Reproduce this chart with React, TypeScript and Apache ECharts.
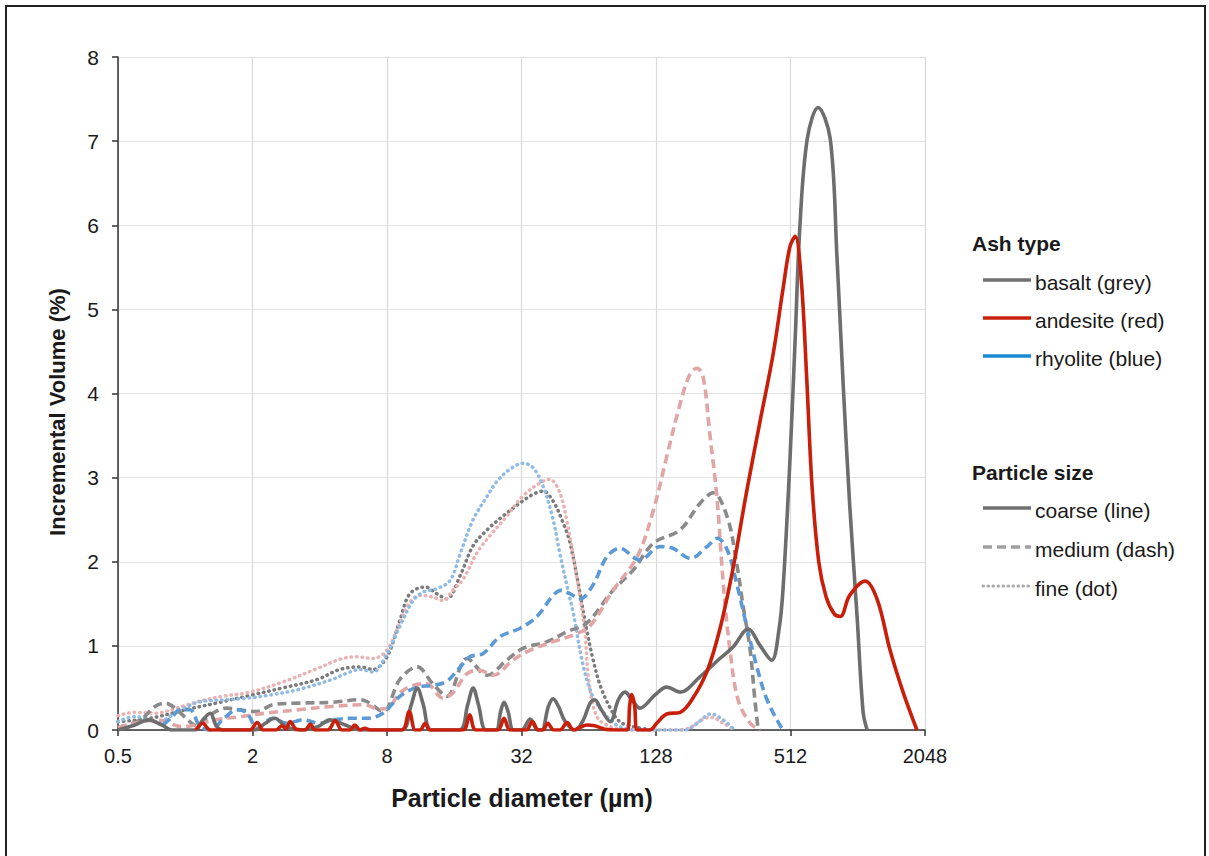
import React, { useEffect, useRef } from "react";
import * as echarts from "echarts";

// x values are log2(particle diameter in µm); y values are incremental volume (%)
const xTickDiameters = [0.5, 2, 8, 32, 128, 512, 2048];
const yTicks = [0, 1, 2, 3, 4, 5, 6, 7, 8];

const basaltCoarse: number[][] = [
  [-1, 0], [-0.75, 0.06], [-0.55, 0.12], [-0.35, 0.06], [-0.2, 0], [0.15, 0], [0.26, 0.12], [0.37, 0.2], [0.46, 0.05], [0.55, 0],
  [1.04, 0], [1.19, 0.08], [1.33, 0.14], [1.51, 0.03], [1.71, 0], [1.97, 0.04], [2.15, 0.12], [2.38, 0.06], [2.6, 0],
  [3.22, 0], [3.36, 0.3], [3.45, 0.5], [3.54, 0.3], [3.66, 0],
  [4.08, 0], [4.2, 0.3], [4.28, 0.5], [4.36, 0.3], [4.47, 0],
  [4.62, 0], [4.69, 0.22], [4.74, 0.33], [4.8, 0.22], [4.88, 0],
  [5.0, 0], [5.13, 0.13], [5.24, 0], [5.3, 0], [5.4, 0.28], [5.47, 0.37], [5.55, 0.28], [5.65, 0.1], [5.8, 0],
  [5.92, 0.12], [6.02, 0.32], [6.09, 0.36], [6.18, 0.25], [6.32, 0.1], [6.44, 0.36], [6.54, 0.45], [6.64, 0.36], [6.76, 0.26],
  [6.99, 0.42], [7.16, 0.51], [7.36, 0.45], [7.65, 0.63], [7.95, 0.85], [8.15, 0.99], [8.37, 1.2], [8.55, 1.0], [8.72, 0.83],
  [8.83, 1.2], [8.89, 1.69], [8.99, 3.18], [9.07, 4.66], [9.14, 5.99], [9.25, 7.03], [9.41, 7.4], [9.59, 7.03], [9.69, 5.64],
  [9.78, 4.16], [9.88, 2.68], [9.99, 1.35], [10.08, 0.21], [10.14, 0],
];

const andesiteCoarse: number[][] = [
  [0.16, 0], [0.26, 0.08], [0.37, 0], [0.96, 0], [1.07, 0.09], [1.16, 0], [1.35, 0], [1.44, 0.05], [1.5, 0.01], [1.56, 0.1],
  [1.65, 0.01], [1.78, 0], [1.86, 0.07], [1.93, 0], [2.12, 0], [2.23, 0.11], [2.33, 0], [2.45, 0], [2.52, 0.06], [2.6, 0],
  [2.67, 0.02], [2.75, 0], [3.22, 0], [3.33, 0.22], [3.42, 0], [3.49, 0], [3.57, 0.08], [3.64, 0], [4.13, 0], [4.23, 0.18],
  [4.32, 0], [4.65, 0], [4.74, 0.14], [4.83, 0], [5.07, 0], [5.16, 0.1], [5.25, 0], [5.32, 0], [5.39, 0.08], [5.48, 0],
  [5.57, 0], [5.68, 0.09], [5.77, 0], [5.87, 0.03], [5.97, 0.06], [6.09, 0.05], [6.24, 0.01], [6.46, 0], [6.57, 0],
  [6.61, 0.3], [6.64, 0.42], [6.68, 0.3], [6.73, 0], [6.91, 0], [7.01, 0.08], [7.16, 0.19], [7.36, 0.21], [7.55, 0.38],
  [7.76, 0.7], [7.95, 1.2], [8.15, 1.94], [8.34, 2.8], [8.55, 3.68], [8.74, 4.46], [8.89, 5.25], [8.99, 5.74], [9.07, 5.87],
  [9.16, 5.35], [9.24, 4.2], [9.32, 2.9], [9.42, 2.0], [9.53, 1.58], [9.65, 1.38], [9.74, 1.35], [9.88, 1.6], [10.11, 1.77],
  [10.29, 1.55], [10.48, 0.95], [10.67, 0.46], [10.88, 0],
];

const basaltMedium: number[][] = [
  [-1, 0.03], [-0.67, 0.12], [-0.45, 0.28], [-0.3, 0.32], [-0.15, 0.26], [0, 0.15], [0.17, 0.05], [0.37, 0.18], [0.62, 0.26],
  [0.81, 0.24], [1.07, 0.22], [1.3, 0.3], [1.71, 0.32], [2.2, 0.33], [2.6, 0.36], [2.72, 0.33], [2.94, 0.22], [3.19, 0.6],
  [3.45, 0.75], [3.68, 0.55], [3.89, 0.4], [4.19, 0.85], [4.49, 0.65], [4.78, 0.83], [5.02, 0.97], [5.38, 1.05], [5.68, 1.17],
  [5.97, 1.27], [6.36, 1.66], [6.66, 1.9], [6.96, 2.22], [7.36, 2.38], [7.65, 2.69], [7.85, 2.82], [8.06, 2.53], [8.2, 1.98],
  [8.29, 1.5], [8.4, 0.95], [8.47, 0.36], [8.52, 0],
];

const andesiteMedium: number[][] = [
  [-1, 0.03], [-0.75, 0.08], [-0.41, 0.12], [-0.05, 0.04], [0.15, 0.06], [0.44, 0.12], [0.84, 0.16], [1.19, 0.2], [1.68, 0.24],
  [2.18, 0.28], [2.67, 0.3], [2.87, 0.25], [3.01, 0.26], [3.19, 0.44], [3.39, 0.53], [3.59, 0.55], [3.83, 0.38], [3.98, 0.44],
  [4.19, 0.67], [4.38, 0.71], [4.58, 0.65], [4.87, 0.83], [5.13, 0.95], [5.47, 1.05], [5.77, 1.13], [6.02, 1.24], [6.36, 1.66],
  [6.72, 2.06], [6.96, 2.61], [7.16, 3.25], [7.36, 3.88], [7.51, 4.24], [7.61, 4.3], [7.7, 4.2], [7.8, 3.52], [7.91, 2.73],
  [8.0, 1.74], [8.1, 0.95], [8.22, 0.36], [8.4, 0.08], [8.55, 0],
];

const rhyoliteMedium: number[][] = [
  [-0.33, 0.06], [-0.2, 0.15], [-0.08, 0.24], [0.07, 0.24], [0.22, 0.04], [0.37, 0], [0.59, 0.15], [0.77, 0.24], [0.92, 0.2],
  [1.07, 0.02], [1.3, 0.14], [1.51, 0.08], [1.75, 0.12], [2.0, 0.08], [2.2, 0.12], [2.49, 0.14], [2.7, 0.14], [2.94, 0.2],
  [3.19, 0.4], [3.45, 0.51], [3.68, 0.53], [3.89, 0.58], [4.09, 0.75], [4.23, 0.87], [4.43, 0.91], [4.68, 1.11], [4.98, 1.21],
  [5.23, 1.35], [5.47, 1.6], [5.59, 1.66], [5.72, 1.62], [5.87, 1.56], [6.06, 1.72], [6.27, 2.06], [6.46, 2.16], [6.76, 2.02],
  [7.06, 2.18], [7.25, 2.16], [7.51, 2.04], [7.76, 2.18], [7.91, 2.28], [8.06, 2.14], [8.2, 1.74], [8.35, 1.23], [8.5, 0.75],
  [8.65, 0.36], [8.84, 0.06], [8.89, 0],
];

const basaltFine: number[][] = [
  [-1, 0.1], [-0.52, 0.14], [0, 0.24], [0.52, 0.33], [1.01, 0.42], [1.45, 0.5], [1.96, 0.6], [2.3, 0.72], [2.6, 0.75],
  [2.79, 0.72], [3.0, 0.87], [3.19, 1.3], [3.34, 1.62], [3.57, 1.7], [3.74, 1.62], [3.89, 1.56], [4.09, 1.84], [4.28, 2.19],
  [4.49, 2.38], [4.72, 2.54], [4.98, 2.7], [5.17, 2.8], [5.32, 2.84], [5.47, 2.72], [5.62, 2.46], [5.72, 2.23], [5.83, 1.8],
  [5.97, 1.19], [6.06, 0.85], [6.17, 0.53], [6.32, 0.26], [6.46, 0.1], [6.66, 0.04], [6.96, 0],
];

const andesiteFine: number[][] = [
  [-1, 0.17], [-0.75, 0.21], [-0.45, 0.2], [-0.05, 0.28], [0.25, 0.35], [0.55, 0.4], [0.96, 0.45], [1.45, 0.57], [1.96, 0.73],
  [2.3, 0.84], [2.55, 0.87], [2.79, 0.85], [3.0, 0.95], [3.19, 1.27], [3.34, 1.52], [3.49, 1.6], [3.68, 1.58], [3.83, 1.54],
  [3.98, 1.66], [4.13, 1.79], [4.34, 2.11], [4.53, 2.31], [4.78, 2.54], [5.02, 2.78], [5.28, 2.94], [5.42, 2.98], [5.57, 2.82],
  [5.68, 2.46], [5.83, 1.78], [5.94, 1.19], [6.0, 0.6], [6.12, 0.16], [6.32, 0.04], [6.61, 0], [7.36, 0], [7.51, 0.03],
  [7.73, 0.14], [7.83, 0.15], [8.0, 0.08], [8.17, 0],
];

const rhyoliteFine: number[][] = [
  [-1, 0.1], [-0.75, 0.16], [-0.41, 0.1], [-0.11, 0.22], [0.19, 0.33], [0.59, 0.36], [0.93, 0.38], [1.29, 0.42], [1.68, 0.48],
  [2.18, 0.6], [2.42, 0.68], [2.6, 0.72], [2.79, 0.69], [3.0, 0.91], [3.19, 1.23], [3.39, 1.54], [3.54, 1.64], [3.74, 1.68],
  [3.94, 1.78], [4.09, 2.1], [4.28, 2.5], [4.49, 2.78], [4.64, 2.96], [4.83, 3.1], [5.02, 3.17], [5.17, 3.12], [5.32, 2.9],
  [5.47, 2.5], [5.57, 2.1], [5.68, 1.7], [5.77, 1.39], [5.91, 0.79], [6.06, 0.4], [6.27, 0.16], [6.46, 0.04], [6.69, 0],
  [7.43, 0], [7.58, 0.06], [7.82, 0.19], [8.0, 0.12], [8.17, 0],
];

const ashLegend = ["basalt (grey)", "andesite (red)", "rhyolite (blue)"];
const sizeLegend = ["coarse (line)", "medium (dash)", "fine (dot)"];

const FONT = '"Liberation Sans", Arial, Helvetica, sans-serif';
const DASH = [9, 5];
const DOT = [0.5, 5];

export default function App() {
  const ref = useRef<HTMLDivElement>(null);

  useEffect(() => {
    if (!ref.current) return;
    const chart = echarts.init(ref.current, undefined, { renderer: "svg" });

    const mk = (name: string, data: number[][], color: string, kind: "solid" | "dash" | "dot", z: number) => ({
      name,
      type: "line",
      data,
      smooth: 0.35,
      symbol: "none",
      showSymbol: false,
      silent: true,
      z,
      lineStyle: {
        color,
        width: kind === "dot" ? 3.5 : 3.6,
        type: kind === "solid" ? "solid" : kind === "dash" ? DASH : DOT,
        cap: kind === "dot" ? "round" : "butt",
      },
    });

    const legendText = (text: string, x: number, y: number, bold = false) => ({
      type: "text",
      style: {
        text,
        x,
        y,
        fill: "#1a1a1a",
        font: `${bold ? "bold " : ""}21px ${FONT}`,
        verticalAlign: "middle",
        align: "left",
      },
    });
    const legendLine = (y: number, color: string, dash?: number[], width = 3.5, cap = "butt") => ({
      type: "line",
      shape: { x1: 983, y1: y, x2: 1031, y2: y },
      style: { stroke: color, lineWidth: width, lineDash: dash, lineCap: cap },
    });

    const ashY = [280, 318, 356];
    const sizeY = [508, 547, 586];

    chart.setOption({
      animation: false,
      backgroundColor: "transparent",
      grid: { left: 118, top: 57, width: 807, height: 673, containLabel: false },
      xAxis: {
        type: "value",
        min: -1,
        max: 11,
        interval: 1,
        axisLine: { show: true, onZero: false, lineStyle: { color: "#333333", width: 1.5 } },
        axisTick: {
          show: true,
          length: 6,
          customValues: xTickDiameters.map((d) => Math.log2(d)),
          lineStyle: { color: "#333333", width: 1.5 },
        },
        axisLabel: {
          customValues: xTickDiameters.map((d) => Math.log2(d)),
          formatter: (v: number) => String(Math.round(Math.pow(2, v) * 10) / 10),
          fontFamily: FONT,
          fontSize: 20,
          color: "#1a1a1a",
          margin: 16,
        },
        splitLine: { show: true, lineStyle: { color: "#d9d9d9", width: 1.2 } },
      },
      yAxis: {
        type: "value",
        min: yTicks[0],
        max: yTicks[yTicks.length - 1],
        interval: 1,
        axisLine: { show: true, onZero: false, lineStyle: { color: "#333333", width: 1.5 } },
        axisTick: { show: true, length: 6, lineStyle: { color: "#333333", width: 1.5 } },
        axisLabel: { fontFamily: FONT, fontSize: 21, color: "#1a1a1a", margin: 19 },
        splitLine: { show: true, lineStyle: { color: "#e3e3e3", width: 1.2 } },
      },
      series: [
        mk("basalt fine", basaltFine, "#7b7b7b", "dot", 2),
        mk("andesite fine", andesiteFine, "#e9b3b3", "dot", 2),
        mk("rhyolite fine", rhyoliteFine, "#8fbbe4", "dot", 2),
        mk("basalt medium", basaltMedium, "#8a8a8a", "dash", 3),
        mk("andesite medium", andesiteMedium, "#e2a5a5", "dash", 3),
        mk("rhyolite medium", rhyoliteMedium, "#5b9ad4", "dash", 3),
        mk("basalt coarse", basaltCoarse, "#6d6d6d", "solid", 4),
        mk("andesite coarse", andesiteCoarse, "#c81e0a", "solid", 5),
      ],
      graphic: [
        {
          type: "text",
          x: 57,
          y: 412,
          rotation: Math.PI / 2,
          style: {
            text: "Incremental Volume (%)",
            font: `bold 22px ${FONT}`,
            fill: "#1a1a1a",
            align: "center",
            verticalAlign: "middle",
          },
        },
        {
          type: "text",
          x: 522,
          y: 798,
          style: {
            text: "Particle diameter (µm)",
            font: `bold 25px ${FONT}`,
            fill: "#1a1a1a",
            align: "center",
            verticalAlign: "middle",
          },
        },
        legendText("Ash type", 972, 243, true),
        legendLine(ashY[0], "#707070"),
        legendLine(ashY[1], "#c8200c"),
        legendLine(ashY[2], "#1a8ad2"),
        legendText(ashLegend[0], 1035, ashY[0] + 2),
        legendText(ashLegend[1], 1035, ashY[1] + 2),
        legendText(ashLegend[2], 1035, ashY[2] + 2),
        legendText("Particle size", 972, 472, true),
        legendLine(sizeY[0], "#707070"),
        legendLine(sizeY[1], "#a0a0a0", DASH),
        legendLine(sizeY[2], "#a8a8a8", [0.5, 4.5], 3, "round"),
        legendText(sizeLegend[0], 1035, sizeY[0] + 2),
        legendText(sizeLegend[1], 1035, sizeY[1] + 2),
        legendText(sizeLegend[2], 1035, sizeY[2] + 2),
      ],
    });

    return () => chart.dispose();
  }, []);

  return (
    <div style={{ position: "fixed", left: 0, top: 0, width: 1209, height: 856, background: "#fff", overflow: "hidden" }}>
      <div ref={ref} style={{ position: "absolute", left: 0, top: 0, width: 1209, height: 856 }} />
      <div
        style={{
          position: "absolute",
          left: 5,
          top: 5,
          width: 1201,
          height: 900,
          border: "2px solid #222",
          boxSizing: "border-box",
          pointerEvents: "none",
        }}
      />
    </div>
  );
}
